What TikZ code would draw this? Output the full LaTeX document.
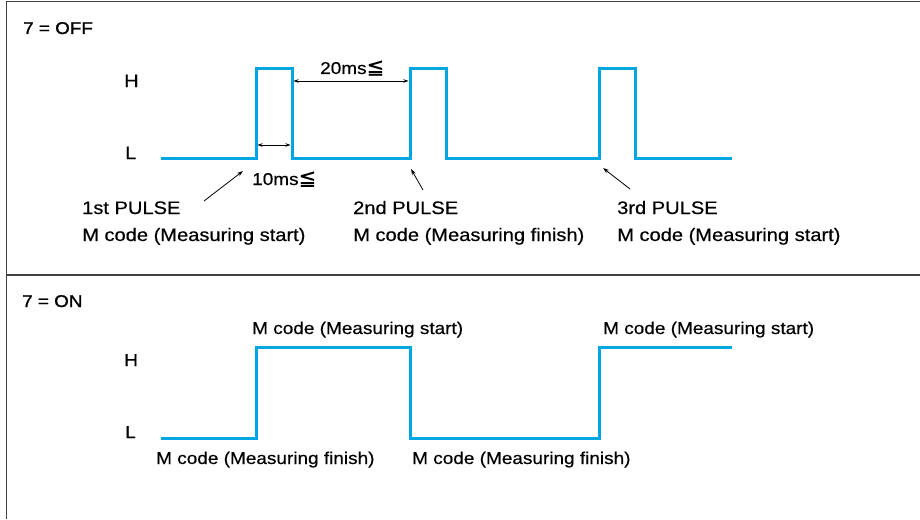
\documentclass[tikz,border=0pt]{standalone}
\usepackage{fontspec}
\setmainfont{Liberation Sans}[FakeStretch=1.11, FakeBold=0.4]
\newfontfamily\symfont{DejaVu Sans}[FakeBold=0.3]
\newfontfamily\headfont{Liberation Sans}[FakeStretch=1.11, FakeBold=1.2]
\usepackage{tikz}
\usetikzlibrary {arrows.meta}
\definecolor{sigblue}{RGB}{0,166,226}
\definecolor{framegray}{RGB}{64,64,64}
\newcommand{\leqq}{{\symfont\fontsize{21}{21}\selectfont ≦}}
\tikzset{
    lbl/.style={anchor=base west, inner sep=0pt,
                font=\fontsize{18.1}{21}\selectfont},
    lblon/.style={lbl, font=\fontsize{17.1}{20}\selectfont},
    head/.style={lbl, font=\headfont\fontsize{17}{20}\selectfont},
    sig/.style={draw=sigblue, line width=3pt, line join=miter},
    myarrow/.style={-{Stealth[length=6pt, width=4pt]}, line width=0.8pt},
    dimarrow/.style={{Stealth[length=5pt, width=3.5pt]}-{Stealth[length=5pt, width=3.5pt]},
                     line width=0.8pt},
    frameline/.style={draw=framegray, line width=1.5pt},
}

\begin{document}
\begin{tikzpicture}[x=1pt, y=-1pt]
    \useasboundingbox (0,0) rectangle (920,519);

    % frame
    \coordinate (tl) at (6.5,1.5);
    \coordinate (tr) at (920,1.5);
    \coordinate (bl) at (6.5,519);
    \coordinate (ml) at (6.5,275);
    \coordinate (mr) at (920,275);
    \draw[frameline] (bl) -- (tl) -- (tr);
    \draw[frameline] (ml) -- (mr);

    % 7 = OFF
    \node[head] (off) at (23,34) {7 = OFF};
    \node[lbl] (h1) at (124,87) {H};
    \node[lbl] (l1) at (125,159) {L};

    \coordinate (s1) at (161,158);
    \coordinate (r1) at (256,158);
    \coordinate (f1) at (292,158);
    \coordinate (r2) at (410,158);
    \coordinate (f2) at (446,158);
    \coordinate (r3) at (599,158);
    \coordinate (f3) at (635,158);
    \coordinate (e1) at (732,158);
    \draw[sig] (s1) -- (r1) -- ++(0,-90) -| (f1) -- (r2) -- ++(0,-90) -| (f2)
               -- (r3) -- ++(0,-90) -| (f3) -- (e1);

    \coordinate (w1a) at (257.5,145);
    \coordinate (w1b) at (290.5,145);
    \draw[dimarrow] (w1a) -- (w1b);
    \node[lblon] (t10) at (252,185) {10ms\leqq};

    \coordinate (w2a) at (293.5,81);
    \coordinate (w2b) at (408.5,81);
    \draw[dimarrow] (w2a) -- (w2b);
    \node[lblon] (t20) at (320,74) {20ms\leqq};

    \node[lbl] (p1) at (82,214) {1st PULSE};
    \node[lbl] (m1) at (82,241) {M code (Measuring start)};
    \node[lbl] (p2) at (353,214) {2nd PULSE};
    \node[lbl] (m2) at (353,241) {M code (Measuring finish)};
    \node[lbl] (p3) at (617,214) {3rd PULSE};
    \node[lbl] (m3) at (617,241) {M code (Measuring start)};

    \coordinate (a1) at (204,201);
    \coordinate (b1) at (243,171);
    \coordinate (a2) at (423,190);
    \coordinate (b2) at (411,169);
    \coordinate (a3) at (630,189);
    \coordinate (b3) at (603,168);
    \draw[myarrow] (a1) -- (b1);
    \draw[myarrow] (a2) -- (b2);
    \draw[myarrow] (a3) -- (b3);

    % 7 = ON
    \node[head] (on) at (22,307) {7 = ON};
    \node[lblon] (h2) at (124,366) {H};
    \node[lblon] (l2) at (125,438) {L};

    \coordinate (s2) at (161,438);
    \coordinate (u1) at (256,438);
    \coordinate (d1) at (410,347);
    \coordinate (u2) at (599,438);
    \coordinate (e2) at (732,347);
    \draw[sig] (s2) -- (u1) |- (d1) |- (u2) |- (e2);

    \node[lblon] (ms1) at (252,334) {M code (Measuring start)};
    \node[lblon] (ms2) at (603,334) {M code (Measuring start)};
    \node[lblon] (mf1) at (156,464) {M code (Measuring finish)};
    \node[lblon] (mf2) at (412,464) {M code (Measuring finish)};

\end{tikzpicture}
\end{document}
